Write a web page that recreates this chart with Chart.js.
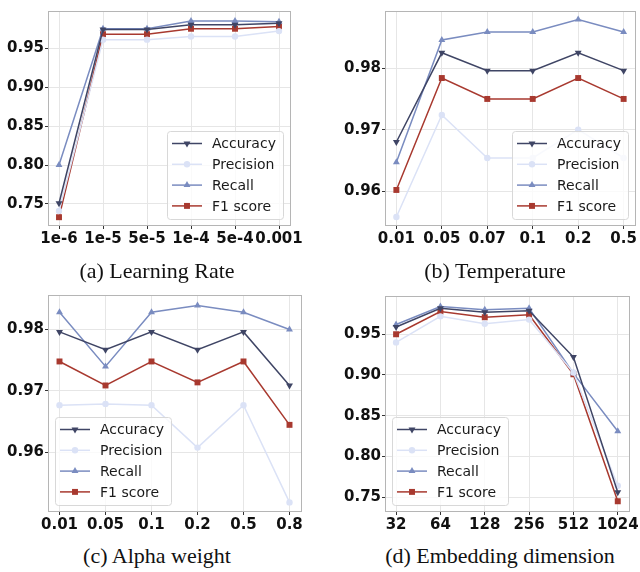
<!DOCTYPE html>
<html>
<head>
<meta charset="utf-8">
<script src="https://cdn.jsdelivr.net/npm/chart.js@4.4.0/dist/chart.umd.min.js"></script>
<style>
  body { margin:0; background:#fff; }
  #wrap { position:relative; width:640px; height:572px; overflow:hidden; }
  canvas { position:absolute; }
  .cap { position:absolute; font-family:"Liberation Serif", serif; font-size:22px; line-height:22px; color:#111; white-space:nowrap; transform:translateX(-50%); }
</style>
</head>
<body>
<div id="wrap">
  <canvas id="cA" width="320" height="250" style="left:0;top:0"></canvas>
  <canvas id="cB" width="320" height="250" style="left:320px;top:0"></canvas>
  <canvas id="cC" width="320" height="260" style="left:0;top:280px"></canvas>
  <canvas id="cD" width="320" height="260" style="left:320px;top:280px"></canvas>
  <div class="cap" style="left:157px;top:260px">(a) Learning Rate</div>
  <div class="cap" style="left:495px;top:260px">(b) Temperature</div>
  <div class="cap" style="left:157px;top:545px">(c) Alpha weight</div>
  <div class="cap" style="left:500px;top:545px">(d) Embedding dimension</div>
</div>
<script>
// ── data ─────────────────────────────────────────────────────────────────────
const lrLabels = ["1e-6","1e-5","5e-5","1e-4","5e-4","0.001"];
const lrAcc  = [0.751, 0.974, 0.974, 0.980, 0.980, 0.982];
const lrPrec = [0.741, 0.961, 0.961, 0.965, 0.965, 0.972];
const lrRec  = [0.800, 0.975, 0.975, 0.985, 0.985, 0.984];
const lrF1   = [0.733, 0.968, 0.968, 0.975, 0.975, 0.978];

const tLabels = ["0.01","0.05","0.07","0.1","0.2","0.5"];
const tAcc  = [0.9680, 0.9825, 0.9796, 0.9796, 0.9825, 0.9796];
const tPrec = [0.9558, 0.9724, 0.9654, 0.9654, 0.9700, 0.9654];
const tRec  = [0.9647, 0.9846, 0.9859, 0.9859, 0.9879, 0.9859];
const tF1   = [0.9602, 0.9784, 0.9750, 0.9750, 0.9784, 0.9750];

const aLabels = ["0.01","0.05","0.1","0.2","0.5","0.8"];
const aAcc  = [0.9796, 0.9767, 0.9796, 0.9767, 0.9796, 0.9709];
const aPrec = [0.9677, 0.9679, 0.9677, 0.9608, 0.9677, 0.9519];
const aRec  = [0.9828, 0.9740, 0.9828, 0.9839, 0.9828, 0.9800];
const aF1   = [0.9748, 0.9709, 0.9748, 0.9714, 0.9748, 0.9645];

const eLabels = ["32","64","128","256","512","1024"];
const eAcc  = [0.959, 0.982, 0.977, 0.979, 0.922, 0.756];
const ePrec = [0.940, 0.972, 0.963, 0.968, 0.903, 0.764];
const eRec  = [0.962, 0.984, 0.980, 0.982, 0.902, 0.831];
const eF1   = [0.950, 0.978, 0.971, 0.974, 0.901, 0.745];

const SERIES = [
  { label:"Accuracy",  color:"#3f4565", style:"triangle", rot:180, r:4 },
  { label:"Precision", color:"#dbe2f6", style:"circle",   rot:0,   r:3.2 },
  { label:"Recall",    color:"#7a8cc0", style:"triangle", rot:0,   r:4 },
  { label:"F1 score",  color:"#a8392f", style:"rect",     rot:0,   r:4.2 },
];

// ── plugins ──────────────────────────────────────────────────────────────────
const frame = {
  id:"frame",
  beforeDatasetsDraw(chart) {
    const { ctx, chartArea:a } = chart;
    ctx.save();
    ctx.strokeStyle = "#b5b5b5"; ctx.lineWidth = 1;
    ctx.strokeRect(Math.round(a.left)+.5, Math.round(a.top)+.5, Math.round(a.right-a.left), Math.round(a.bottom-a.top));
    ctx.restore();
  }
};

const boxLegend = {
  id:"boxLegend",
  afterDatasetsDraw(chart, args, opts) {
    const { ctx, chartArea:a } = chart;
    const w = 116, h = 88;
    const x = Math.round(opts.side === "right" ? a.right - 7 - w : a.left + 7);
    const y = Math.round(a.bottom - 6 - h);
    ctx.save();
    ctx.fillStyle = "rgba(255,255,255,0.8)";
    ctx.strokeStyle = "#d8d8d8"; ctx.lineWidth = 1;
    ctx.beginPath(); ctx.roundRect(x+.5, y+.5, w, h, 3); ctx.fill(); ctx.stroke();
    chart.data.datasets.forEach((ds, i) => {
      const cy = y + 12.5 + i*20.8;
      ctx.strokeStyle = ds.borderColor; ctx.lineWidth = 1.5;
      ctx.beginPath(); ctx.moveTo(x+5, cy); ctx.lineTo(x+35, cy); ctx.stroke();
      ctx.fillStyle = ds.pointBackgroundColor;
      ctx.strokeStyle = ds.pointBackgroundColor;
      if (Chart.helpers && Chart.helpers.drawPoint) {
        Chart.helpers.drawPoint(ctx, { pointStyle:ds.pointStyle, radius:ds.pointRadius, rotation:ds.pointRotation, borderWidth:0 }, x+20, cy);
      }
      ctx.fillStyle = "#1a1a1a";
      ctx.font = '14px "DejaVu Sans"';
      ctx.textBaseline = "middle";
      ctx.fillText(ds.label, x+45, cy+1);
    });
    ctx.restore();
  }
};

// ── chart builder ────────────────────────────────────────────────────────────
function panel(id, labels, series, ymin, ymax, ystep, yW, xH, padTop, padRight, side) {
  const datasets = series.map((vals, k) => {
    const s = SERIES[k];
    return {
      label:s.label,
      data:vals.map((v,i) => ({ x:i, y:v })),
      borderColor:s.color, backgroundColor:s.color,
      pointBackgroundColor:s.color, pointBorderColor:s.color,
      pointStyle:s.style, pointRotation:s.rot, pointRadius:s.r, pointBorderWidth:0,
      borderWidth:1.5, tension:0,
    };
  });
  const tickFont = { family:"DejaVu Sans", size:15, weight:"bold" };
  return new Chart(document.getElementById(id), {
    type:"line",
    data:{ datasets },
    options:{
      responsive:false, animation:false, devicePixelRatio:1,
      layout:{ padding:{ top:padTop, right:padRight, left:0, bottom:0 } },
      plugins:{ legend:{ display:false }, tooltip:{ enabled:false }, boxLegend:{ side } },
      scales:{
        x:{
          type:"linear", min:-0.25, max:5.25,
          afterFit:s => { s.height = xH; },
          grid:{ color:"#e6e6e6", tickColor:"#333", tickLength:4 },
          border:{ display:false },
          ticks:{ stepSize:1, includeBounds:false, autoSkip:false, maxRotation:0, padding:1,
                  color:"#111", font:tickFont,
                  callback:v => Number.isInteger(v) ? labels[v] : "" },
        },
        y:{
          type:"linear", min:ymin, max:ymax,
          afterFit:s => { s.width = yW; },
          grid:{ color:"#e6e6e6", tickColor:"#333", tickLength:3 },
          border:{ display:false },
          ticks:{ stepSize:ystep, includeBounds:false, padding:1, color:"#111", font:tickFont,
                  callback:v => v.toFixed(2) },
        },
      },
    },
    plugins:[frame, boxLegend],
  });
}

panel("cA", lrLabels, [lrAcc, lrPrec, lrRec, lrF1], 0.723, 0.9978, 0.05, 48, 25, 11, 30, "right");
panel("cB", tLabels,  [tAcc, tPrec, tRec, tF1],     0.9545, 0.9893, 0.01, 65, 25, 11, 5, "right");
panel("cC", aLabels,  [aAcc, aPrec, aRec, aF1],     0.9505, 0.9856, 0.01, 48, 29, 15, 19, "left");
panel("cD", eLabels,  [eAcc, ePrec, eRec, eF1],     0.733, 0.997, 0.05, 65, 29, 16, 8, "left");
</script>
</body>
</html>
